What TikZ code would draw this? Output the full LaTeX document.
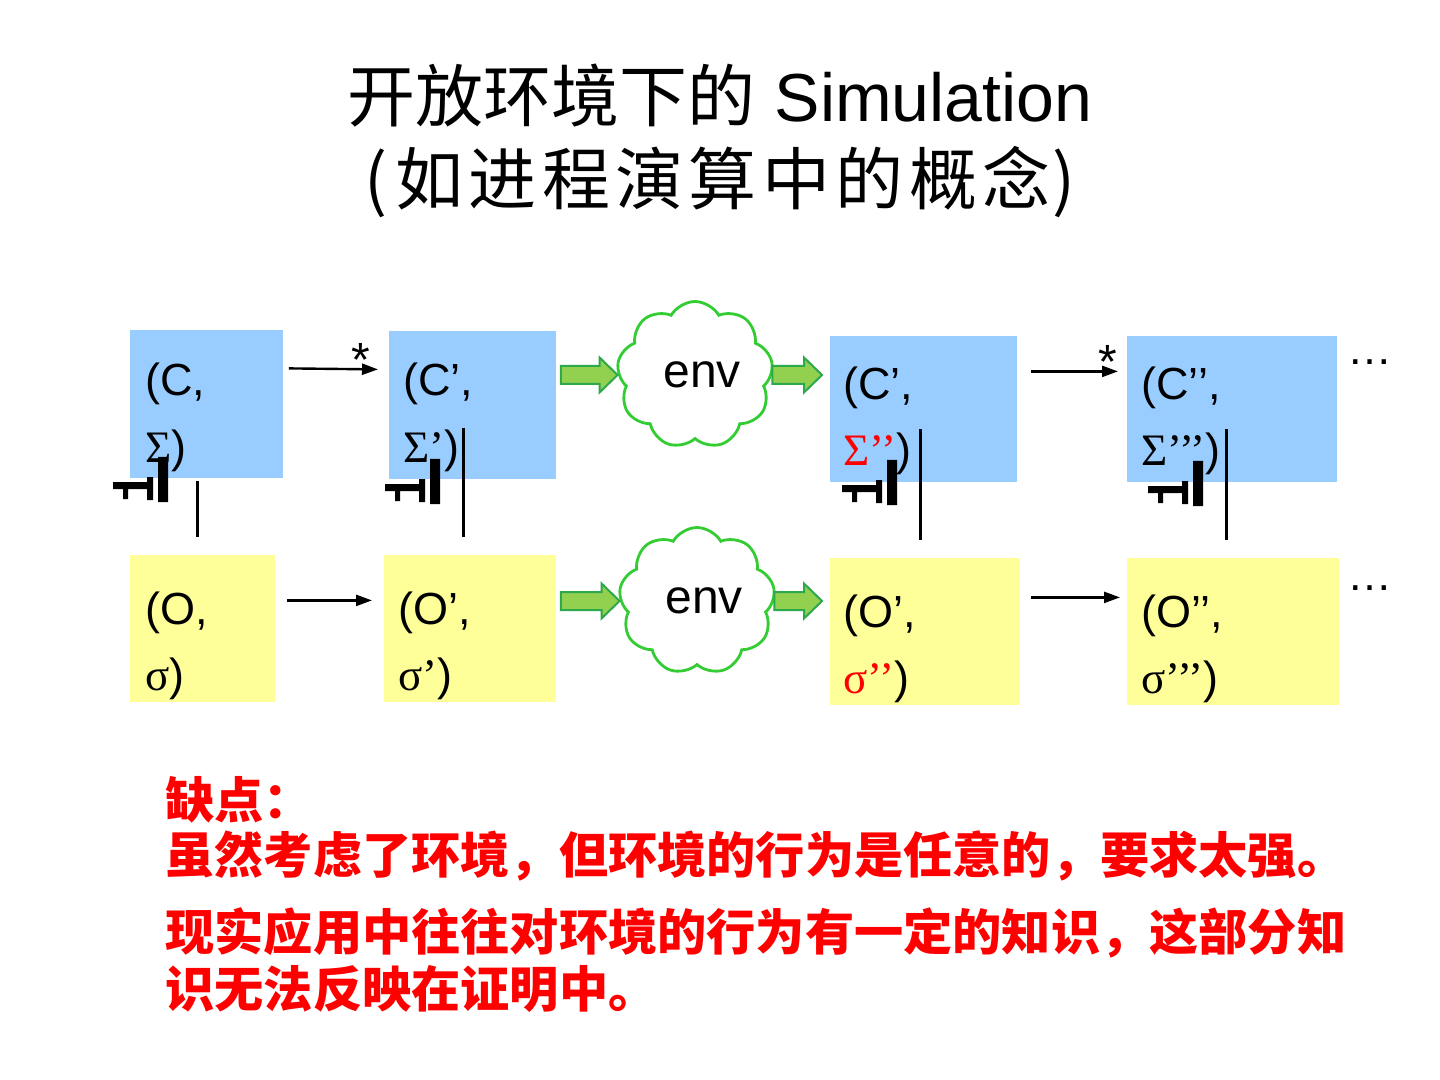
\documentclass[tikz,border=0pt]{standalone}
\usepackage{fontspec}
\setmainfont{Liberation Sans}
\newfontfamily\cjk{Noto Sans CJK SC}
\newfontfamily\cjkwide{Noto Sans CJK SC}[LetterSpace=8]
\newfontfamily\gk{Liberation Serif}
\usepackage{tikz}
\usetikzlibrary{arrows.meta,calc,shapes.symbols}
\definecolor{boxC}{HTML}{99CCFF}
\definecolor{boxO}{HTML}{FFFF99}
\definecolor{envG}{HTML}{33CC33}
\definecolor{arrFill}{HTML}{92D050}
\definecolor{arrLine}{HTML}{2DA84A}
\definecolor{noteR}{HTML}{FF0000}

% broken relation glyph under each upper box
\newcommand{\simmark}[1]{%
  \fill[black,shift={(#1)}] (0,0) rectangle (40,7) (10,5) rectangle (15,17)
    (34,-5) rectangle (40,18) (45,-25) rectangle (55,20);}
% fat green arrow into / out of a cloud
\newcommand{\envarrow}[3]{%
  \filldraw[envarr] let \p1=(#1), \p2=(#2), \p3=(#3) in
    (\x1,\y3+4.5pt) -- (\x2-9pt,\y3+4.5pt) -- (\x2-9pt,\y3+8.75pt) -- (\x2,\y3)
    -- (\x2-9pt,\y3-8.75pt) -- (\x2-9pt,\y3-4.5pt) -- (\x1,\y3-4.5pt) -- cycle;}

\begin{document}
\begin{tikzpicture}[x=0.5pt,y=-0.5pt,
  cfill/.style={fill=boxC,inner sep=0pt,anchor=north west,minimum height=74pt},
  ofill/.style={fill=boxO,inner sep=0pt,anchor=north west,minimum height=73.5pt},
  pair/.style={anchor=base west,inner sep=0pt,align=left,font=\fontsize{22.5}{33}\selectfont},
  flow/.style={line width=1.2pt,-{Triangle[length=8pt,width=5.5pt]}},
  star/.style={anchor=south,inner sep=0pt,yshift=-4pt,font=\fontsize{24}{24}\selectfont},
  simline/.style={line width=1.4pt},
  envcloud/.style={cloud,draw=envG,line width=1.4pt,cloud puffs=9,cloud puff arc=120,
    minimum width=78pt,minimum height=72pt,inner sep=0pt,font=\fontsize{24}{24}\selectfont},
  envarr/.style={fill=arrFill,draw=arrLine,line width=1pt},
  dots/.style={inner sep=0pt,font=\fontsize{22.5}{22.5}\selectfont},
  title/.style={anchor=base,inner sep=0pt,font=\fontsize{34}{34}\selectfont},
  note/.style={anchor=base west,inner sep=0pt,align=left,text=noteR,
    font=\cjk\bfseries\fontsize{24.6}{27.5}\selectfont}]
  \useasboundingbox (0,0) rectangle (1440,1080);

  % title
  \node[title] (head) at (720,122) {{\cjk 开放环境下的} Simulation};
  \node[title] (subhead) at (720,205)
    {{\cjk(}\hspace{4pt}{\cjkwide 如进程演算中的概念}\hspace{1pt}{\cjk)}};

  % upper row
  \node[cfill,minimum width=76.5pt] (c1) at (130,330) {};
  \node[cfill,minimum width=83.5pt] (c2) at (389,331) {};
  \node[cfill,minimum width=93.5pt,minimum height=73pt] (c3) at (830,336) {};
  \node[cfill,minimum width=105pt,minimum height=73pt] (c4) at (1127,336) {};
  \node[pair] (c1t) at (145,462) {(C,\\{\gk Σ})};
  \node[pair] (c2t) at (403,462) {(C’,\\{\gk Σ’})};
  \node[pair] (c3t) at (843,466) {(C’,\\{\gk\color{red}Σ’’})};
  \node[pair] (c4t) at (1141,466) {(C’’,\\{\gk Σ’’’})};

  % lower row
  \node[ofill,minimum width=72.5pt] (o1) at (130,555) {};
  \node[ofill,minimum width=86pt] (o2) at (384,555) {};
  \node[ofill,minimum width=95pt] (o3) at (830,558) {};
  \node[ofill,minimum width=106pt] (o4) at (1127,558) {};
  \node[pair] (o1t) at (145,690) {(O,\\{\gk σ})};
  \node[pair] (o2t) at (398,690) {(O’,\\{\gk σ’})};
  \node[pair] (o3t) at (843,693) {(O’,\\{\gk\color{red}σ’’})};
  \node[pair] (o4t) at (1141,693) {(O’’,\\{\gk σ’’’})};

  % environment
  \node[envcloud] (e1) at (695,375) {\hspace{7pt}env};
  \node[envcloud] (e2) at (697,601) {\hspace{7pt}env};
  \envarrow{[xshift=2pt]c2.east}{e1.west}{e1}
  \envarrow{e1.east}{[xshift=-4pt]c3.west}{e1}
  \envarrow{[xshift=2pt]o2.east}{e2.west}{e2}
  \envarrow{e2.east}{[xshift=-4pt]o3.west}{e2}

  % steps
  \draw[flow] ([shift={(5,-36)}]c1.east) -- node[star,pos=0.81] {*} ([shift={(-11,-36)}]c2.west);
  \draw[flow] ([shift={(13,-38)}]c3.east) -- node[star,pos=0.88] {*} ([shift={(-9,-38)}]c4.west);
  \draw[flow] ([shift={(11,-28.5)}]o1.east) -- ([shift={(-12,-28.5)}]o2.west);
  \draw[flow] ([shift={(10,-34.5)}]o3.east) -- ([shift={(-7,-34.5)}]o4.west);
  \node[dots] (more1) at (1370,362) {…};
  \node[dots] (more2) at (1370,588) {…};

  % relation between rows
  \draw[simline] ([shift={(-9.5,2)}]c1.south) -- ([shift={(-5.5,-18)}]o1.north);
  \draw[simline] ([shift={(-9.5,-52)}]c2.south) -- ([shift={(-7,-18)}]o2.north);
  \draw[simline] ([shift={(-3.5,-54)}]c3.south) -- ([shift={(-5,-18)}]o3.north);
  \draw[simline] ([shift={(-6,-54)}]c4.south) -- ([shift={(-7,-18)}]o4.north);
  \simmark{113,482}
  \simmark{385,484}
  \simmark{842,485}
  \simmark{1148,486}

  % drawbacks
  \node[note] (drawback) at (165,873) {缺点：\\虽然考虑了环境，但环境的行为是任意的，要求太强。};
  \node[note,font=\cjk\bfseries\fontsize{24.6}{28.5}\selectfont] (knowledge) at (165,1007)
    {现实应用中往往对环境的行为有一定的知识，这部分知\\识无法反映在证明中。};
\end{tikzpicture}
\end{document}
